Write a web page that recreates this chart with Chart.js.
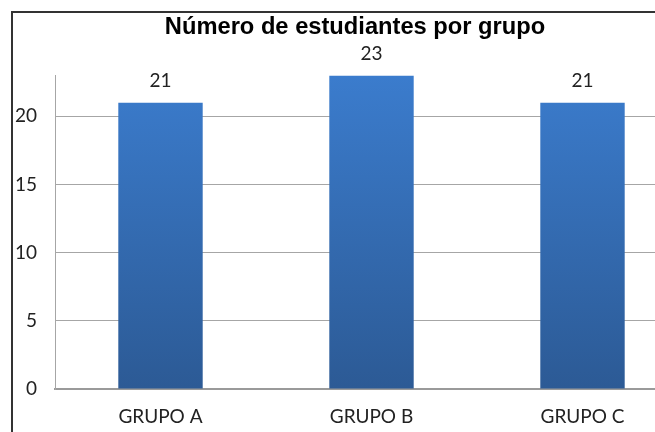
<!DOCTYPE html>
<html>
<head>
<meta charset="utf-8">
<script src="https://cdn.jsdelivr.net/npm/chart.js@4"></script>
<style>
  html, body { margin: 0; padding: 0; background: #fff; overflow: hidden; }
  #wrap { position: relative; width: 655px; height: 432px; overflow: hidden; }
  #frame { position: absolute; left: 11px; top: 11px; width: 700px; height: 440px;
           border-left: 2px solid #333; border-top: 2px solid #333; }
  #c { position: absolute; left: 0; top: 0; }
</style>
</head>
<body>
<div id="wrap">
  <div id="frame"></div>
  <canvas id="c" width="710" height="432"></canvas>
</div>
<script>
const categories = ["GRUPO A", "GRUPO B", "GRUPO C"];
const students = [21, 23, 21];
const yTicks = [0, 5, 10, 15, 20];

const labelFont = "Lato, 'Open Sans', sans-serif";

function barGradient(context) {
    const area = context.chart.chartArea;
    if (!area) return '#3a78c8';
    const g = context.chart.ctx.createLinearGradient(0, area.top, 0, area.bottom);
    g.addColorStop(0, '#3b7ccd');
    g.addColorStop(1, '#2c5a95');
    return g;
}

// values written above each bar
const valueLabels = {
    id: 'valueLabels',
    afterDatasetsDraw(chart) {
        const ctx = chart.ctx;
        const meta = chart.getDatasetMeta(0);
        ctx.save();
        ctx.font = "19px " + labelFont;
        ctx.fillStyle = '#222';
        ctx.textAlign = 'center';
        ctx.textBaseline = 'middle';
        meta.data.forEach((bar, i) => {
            ctx.fillText(String(students[i]), bar.x, bar.y - 22);
        });
        ctx.restore();
    }
};

new Chart(document.getElementById('c').getContext('2d'), {
    type: 'bar',
    data: {
        labels: categories,
        datasets: [{
            data: students,
            backgroundColor: barGradient,
            borderWidth: 0,
            barPercentage: 0.4,
            categoryPercentage: 1.0,
        }],
    },
    options: {
        responsive: false,
        animation: false,
        events: [],
        layout: { padding: 0 },
        plugins: {
            legend: { display: false },
            tooltip: { enabled: false },
            title: {
                display: true,
                text: 'Número de estudiantes por grupo',
                color: '#000',
                font: { family: "'Liberation Sans', Arial, sans-serif", size: 23.7, weight: 'bold', lineHeight: 1.2 },
                padding: { top: 13, bottom: 34 },
            },
        },
        scales: {
            x: {
                grid: { display: false, drawTicks: false },
                border: { display: true, color: '#9a9a9a', width: 2 },
                ticks: { color: '#222', font: { family: labelFont, size: 19 }, padding: 16 },
                afterFit(scale) { scale.height = 43; },
            },
            y: {
                min: 0,
                max: 23,
                grid: { color: '#a6a6a6', lineWidth: 1, drawTicks: false },
                border: { display: true, color: '#a6a6a6', width: 1 },
                ticks: {
                    stepSize: 5,
                    includeBounds: false,
                    padding: 18,
                    color: '#222',
                    font: { family: labelFont, size: 19 },
                    callback: (v) => yTicks.includes(v) ? String(v) : '',
                },
                afterFit(scale) { scale.width = 55; },
            },
            // empty right-hand spacer so the plot ends where the reference does
            yRight: {
                position: 'right',
                min: 0,
                max: 23,
                grid: { display: false, drawTicks: false },
                border: { display: false },
                ticks: { display: false },
                afterFit(scale) { scale.width = 22; },
            },
        },
    },
    plugins: [valueLabels],
});
</script>
</body>
</html>
